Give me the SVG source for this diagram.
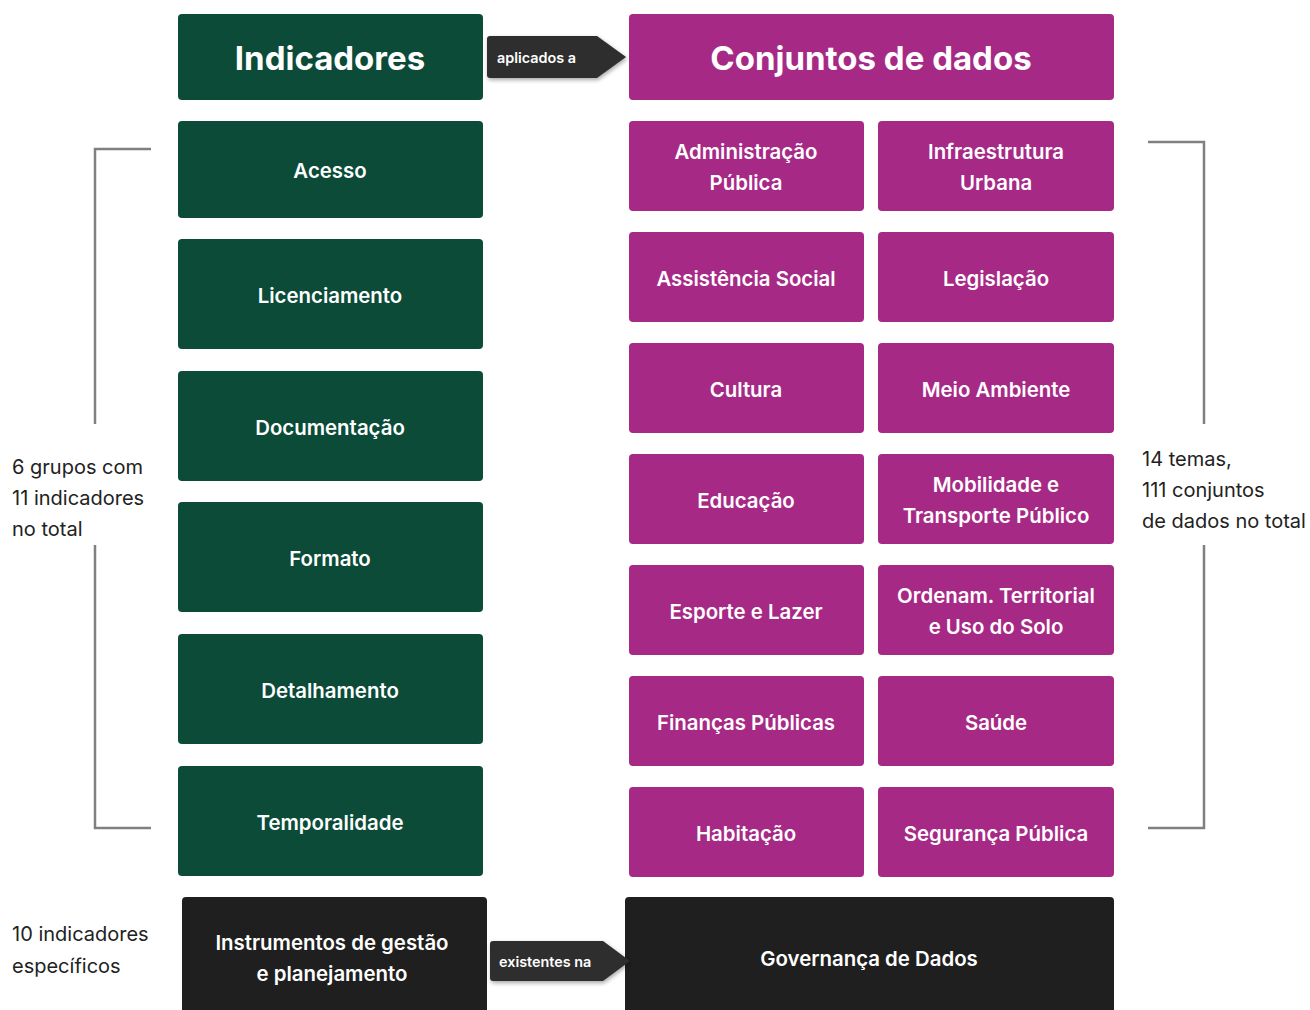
<svg xmlns="http://www.w3.org/2000/svg" width="1310" height="1010" viewBox="0 0 1310 1010">
<defs>
<filter id="sh" x="-20%" y="-30%" width="140%" height="170%">
<feDropShadow dx="1" dy="2" stdDeviation="2" flood-color="#000" flood-opacity="0.35"/>
</filter>
</defs>
<style>
.g{fill:#0b4b38}
.p{fill:#a72986}
.k{fill:#1f1f1f}
.t{font-family:Inter,"Liberation Sans",sans-serif;font-weight:600;fill:#fff;text-anchor:middle;dominant-baseline:central;font-size:20.4px}
.h{font-size:33px;font-weight:700}
.s{font-family:Inter,"Liberation Sans",sans-serif;font-size:20px;fill:#222}
.a{font-family:Inter,"Liberation Sans",sans-serif;font-size:14.4px;font-weight:600;fill:#fff;dominant-baseline:central}
.br{fill:none;stroke:#808080;stroke-width:2.5}
</style>
<rect width="1310" height="1010" fill="#fff"/>
<g id="indicadores"><rect class="g" x="178" y="14" width="305" height="86" rx="4"/><text class="t h" x="330" y="58">Indicadores</text></g>
<g id="conjuntos"><rect class="p" x="629" y="14" width="485" height="86" rx="4"/><text class="t h" x="871" y="58">Conjuntos de dados</text></g>
<g id="acesso"><rect class="g" x="178" y="121" width="305" height="97" rx="4"/><text class="t" x="330" y="170">Acesso</text></g>
<g id="licenciamento"><rect class="g" x="178" y="239" width="305" height="110" rx="4"/><text class="t" x="330" y="295">Licenciamento</text></g>
<g id="documentacao"><rect class="g" x="178" y="371" width="305" height="110" rx="4"/><text class="t" x="330" y="427">Documentação</text></g>
<g id="formato"><rect class="g" x="178" y="502" width="305" height="110" rx="4"/><text class="t" x="330" y="558">Formato</text></g>
<g id="detalhamento"><rect class="g" x="178" y="634" width="305" height="110" rx="4"/><text class="t" x="330" y="690">Detalhamento</text></g>
<g id="temporalidade"><rect class="g" x="178" y="766" width="305" height="110" rx="4"/><text class="t" x="330" y="822">Temporalidade</text></g>
<g id="admin"><rect class="p" x="629" y="121" width="235" height="90" rx="4"/><text class="t" x="746" y="151">Administração</text><text class="t" x="746" y="182">Pública</text></g>
<g id="infra"><rect class="p" x="878" y="121" width="236" height="90" rx="4"/><text class="t" x="996" y="151">Infraestrutura</text><text class="t" x="996" y="182">Urbana</text></g>
<g id="assist"><rect class="p" x="629" y="232" width="235" height="90" rx="4"/><text class="t" x="746" y="278">Assistência Social</text></g>
<g id="legis"><rect class="p" x="878" y="232" width="236" height="90" rx="4"/><text class="t" x="996" y="278">Legislação</text></g>
<g id="cultura"><rect class="p" x="629" y="343" width="235" height="90" rx="4"/><text class="t" x="746" y="389">Cultura</text></g>
<g id="meio"><rect class="p" x="878" y="343" width="236" height="90" rx="4"/><text class="t" x="996" y="389">Meio Ambiente</text></g>
<g id="educacao"><rect class="p" x="629" y="454" width="235" height="90" rx="4"/><text class="t" x="746" y="500">Educação</text></g>
<g id="mobilidade"><rect class="p" x="878" y="454" width="236" height="90" rx="4"/><text class="t" x="996" y="484">Mobilidade e</text><text class="t" x="996" y="515">Transporte Público</text></g>
<g id="esporte"><rect class="p" x="629" y="565" width="235" height="90" rx="4"/><text class="t" x="746" y="611">Esporte e Lazer</text></g>
<g id="ordenam"><rect class="p" x="878" y="565" width="236" height="90" rx="4"/><text class="t" x="996" y="595">Ordenam. Territorial</text><text class="t" x="996" y="626">e Uso do Solo</text></g>
<g id="financas"><rect class="p" x="629" y="676" width="235" height="90" rx="4"/><text class="t" x="746" y="722">Finanças Públicas</text></g>
<g id="saude"><rect class="p" x="878" y="676" width="236" height="90" rx="4"/><text class="t" x="996" y="722">Saúde</text></g>
<g id="habitacao"><rect class="p" x="629" y="787" width="235" height="90" rx="4"/><text class="t" x="746" y="833">Habitação</text></g>
<g id="seguranca"><rect class="p" x="878" y="787" width="236" height="90" rx="4"/><text class="t" x="996" y="833">Segurança Pública</text></g>
<g id="instrumentos"><rect class="k" x="182" y="897" width="305" height="130" rx="4"/><text class="t" x="332" y="942">Instrumentos de gestão</text><text class="t" x="332" y="973">e planejamento</text></g>
<g id="governanca"><rect class="k" x="625" y="897" width="489" height="130" rx="4"/><text class="t" x="869" y="958">Governança de Dados</text></g>
<g id="connectors">
<path d="M490 36 H597 L626 57 L597 78 H490 Q487 78 487 75 V39 Q487 36 490 36 Z" fill="#2e2e2e" filter="url(#sh)"/>
<text class="a" x="497" y="57">aplicados a</text>
<path d="M493 941 H603 L630 961 L603 981 H493 Q490 981 490 978 V944 Q490 941 493 941 Z" fill="#2e2e2e" filter="url(#sh)"/>
<text class="a" x="499" y="961">existentes na</text>
</g>
<g id="brackets">
<path class="br" d="M151 149 H95 V424 M95 545 V828 H151"/>
<path class="br" d="M1148 142 H1204 V424 M1204 545 V828 H1148"/>
</g>
<g id="notes">
<text class="s" x="12" y="474">6 grupos com</text>
<text class="s" x="12" y="505">11 indicadores</text>
<text class="s" x="12" y="536">no total</text>
<text class="s" x="1142" y="466">14 temas,</text>
<text class="s" x="1142" y="497">111 conjuntos</text>
<text class="s" x="1142" y="528">de dados no total</text>
<text class="s" x="12" y="941">10 indicadores</text>
<text class="s" x="12" y="973">específicos</text>
</g>
</svg>
